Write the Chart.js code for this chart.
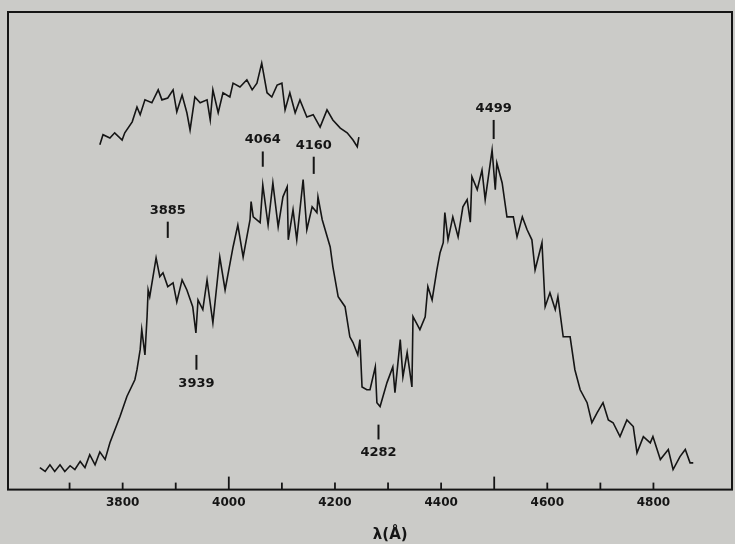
<!DOCTYPE html>
<html>
<head>
<meta charset="utf-8">
<script src="https://cdn.jsdelivr.net/npm/chart.js@4/dist/chart.umd.min.js"></script>
<style>
  html, body { margin: 0; padding: 0; background: #cbcbc8; }
  #wrap { width: 735px; height: 544px; position: relative; }
</style>
</head>
<body>
<div id="wrap"><canvas id="spectre"></canvas></div>
<script>
// main spectrum (wavelength in Å, relative flux)
const mainWl = [
  3644,3654,3663,3672,3682,3691,3701,3710,3720,3729,
  3738,3748,3757,3767,3776,3795,3808,3823,3827,3833,
  3836,3842,3846,3848,3851,3863,3870,3876,3885,3895,
  3902,3912,3921,3932,3938,3942,3951,3959,3970,3983,
  3993,4008,4017,4027,4040,4042,4046,4059,4064,4074,
  4083,4093,4102,4110,4112,4121,4128,4140,4147,4157,
  4166,4168,4176,4191,4196,4206,4219,4228,4234,4243,
  4247,4251,4260,4266,4276,4279,4285,4298,4309,4313,
  4323,4328,4336,4345,4347,4360,4370,4375,4383,4392,
  4398,4404,4407,4413,4422,4432,4441,4449,4455,4458,
  4468,4477,4483,4496,4502,4505,4515,4524,4536,4543,
  4553,4562,4571,4577,4590,4596,4605,4615,4620,4630,
  4643,4652,4662,4675,4684,4694,4705,4715,4724,4737,
  4750,4762,4769,4781,4794,4799,4813,4828,4837,4850,
  4860,4869,4875
];
const mainFlux = [
  4.6,3.8,5.2,3.8,5.2,3.8,5.0,4.2,5.9,4.6,
  7.3,5.2,7.9,6.3,9.8,15.3,19.5,23.0,25.1,29.3,
  33.5,28.2,36.2,41.8,40.4,48.5,44.6,45.4,42.5,43.3,
  39.3,43.9,41.8,38.3,32.8,39.7,37.7,43.9,34.9,48.7,
  41.8,50.8,55.4,48.7,56.5,60.3,57.1,55.9,63.8,55.4,
  64.2,55.0,61.3,63.4,52.3,58.6,52.3,64.9,54.4,59.2,
  58.0,61.3,56.5,50.8,46.7,40.4,38.3,32.0,30.8,28.2,
  31.4,21.5,20.9,20.9,25.7,18.2,17.4,22.4,25.7,20.3,
  31.4,23.6,28.7,21.5,36.2,33.5,36.2,42.5,39.7,46.0,
  49.6,51.7,58.0,52.3,57.1,52.9,59.2,60.7,56.0,65.5,
  62.8,66.9,60.7,71.1,62.8,68.4,64.2,57.1,57.1,52.9,
  57.1,54.4,52.3,46.0,51.7,38.3,41.2,37.7,40.4,32.0,
  32.0,25.1,20.9,18.2,14.0,16.1,18.2,14.6,14.0,11.1,
  14.6,13.2,7.7,11.1,9.8,11.1,6.3,8.4,4.2,6.9,
  8.4,5.6,5.6
];

// upper trace (shifted comparison spectrum)
const upperWl = [
  3757,3763,3776,3785,3799,3804,3818,3827,3833,3842,
  3855,3867,3874,3885,3895,3902,3912,3921,3927,3936,
  3946,3959,3965,3970,3980,3989,4002,4008,4021,4034,
  4044,4053,4062,4072,4081,4091,4100,4106,4115,4125,
  4134,4147,4159,4172,4185,4196,4210,4223,4234,4242,4245
];
const upperFlux = [
  72.2,74.3,73.6,74.7,73.2,74.7,77.0,80.1,78.5,81.6,
  81.0,83.7,81.6,82.0,83.7,79.1,82.6,78.9,75.3,82.2,
  81.0,81.6,77.4,83.7,78.9,83.1,82.2,85.1,84.3,85.8,
  83.7,85.1,89.3,83.1,82.2,84.7,85.1,79.5,83.1,78.9,
  81.6,78.0,78.5,75.9,79.5,77.4,75.7,74.7,73.2,71.8,73.8
];

// identified features: wavelength, mark top / bottom (flux units), label side
const featWl     = [3885, 3939, 4064, 4160, 4282, 4499];
const featTop    = [56.1, 28.2, 70.8, 69.7, 13.6, 77.4];
const featBottom = [52.7, 25.1, 67.6, 66.1, 10.5, 73.4];
const featAbove  = [true, false, true, true, false, true];

// axis
const tickMarks  = [3700,3800,3900,4000,4100,4200,4300,4400,4500,4600,4700,4800];
const longTicks  = [4000, 4500];
const tickLabels = [3800, 4000, 4200, 4400, 4600, 4800];

const INK = "#151515";

const toPoints = (xs, ys) => xs.map((w, i) => ({ x: w, y: ys[i] }));

const decor = {
    id: "decor",
    afterDatasetsDraw(chart) {
        const { ctx, chartArea: a, scales: { x, y } } = chart;
        ctx.save();
        ctx.strokeStyle = INK;
        ctx.fillStyle = INK;

        // frame
        ctx.lineWidth = 2;
        ctx.strokeRect(a.left, a.top, a.width, a.height);

        // inward tick marks
        ctx.lineWidth = 1.8;
        tickMarks.forEach(v => {
            const px = x.getPixelForValue(v);
            const len = longTicks.includes(v) ? 13 : 7;
            ctx.beginPath();
            ctx.moveTo(px, a.bottom);
            ctx.lineTo(px, a.bottom - len);
            ctx.stroke();
        });

        // feature marks + labels
        ctx.font = "bold 13px 'DejaVu Sans'";
        ctx.textAlign = "center";
        ctx.lineWidth = 2;
        featWl.forEach((w, i) => {
            const px = x.getPixelForValue(w);
            const top = y.getPixelForValue(featTop[i]);
            const bot = y.getPixelForValue(featBottom[i]);
            ctx.beginPath();
            ctx.moveTo(px, top);
            ctx.lineTo(px, bot);
            ctx.stroke();
            if (featAbove[i]) {
                ctx.textBaseline = "alphabetic";
                ctx.fillText(String(w), px, top - 8);
            } else {
                ctx.textBaseline = "top";
                ctx.fillText(String(w), px, bot + 7);
            }
        });

        // axis title
        ctx.font = "bold 15px 'DejaVu Sans'";
        ctx.textBaseline = "middle";
        ctx.fillText("λ(Å)", a.left + a.width * 0.528, a.bottom + 46);
        ctx.restore();
    }
};

new Chart(document.getElementById("spectre"), {
    type: "line",
    data: {
        datasets: [
            {
                data: toPoints(mainWl, mainFlux),
                borderColor: INK,
                borderWidth: 1.6,
                pointRadius: 0,
                tension: 0
            },
            {
                data: toPoints(upperWl, upperFlux),
                borderColor: INK,
                borderWidth: 1.6,
                pointRadius: 0,
                tension: 0
            }
        ]
    },
    options: {
        responsive: true,
        maintainAspectRatio: false,
        animation: false,
        layout: { padding: { left: 8, right: 3, top: 12, bottom: 28 } },
        plugins: { legend: { display: false }, tooltip: { enabled: false } },
        scales: {
            x: {
                type: "linear",
                min: 3584,
                max: 4948,
                grid: { display: false, drawTicks: false, tickLength: 0 },
                border: { display: false },
                afterBuildTicks: s => { s.ticks = tickLabels.map(v => ({ value: v })); },
                ticks: {
                    padding: 6,
                    color: INK,
                    font: { family: "DejaVu Sans", size: 12, weight: "bold" },
                    maxRotation: 0,
                    callback: v => String(v)
                }
            },
            y: {
                display: false,
                min: 0,
                max: 100
            }
        }
    },
    plugins: [decor]
});
</script>
</body>
</html>
